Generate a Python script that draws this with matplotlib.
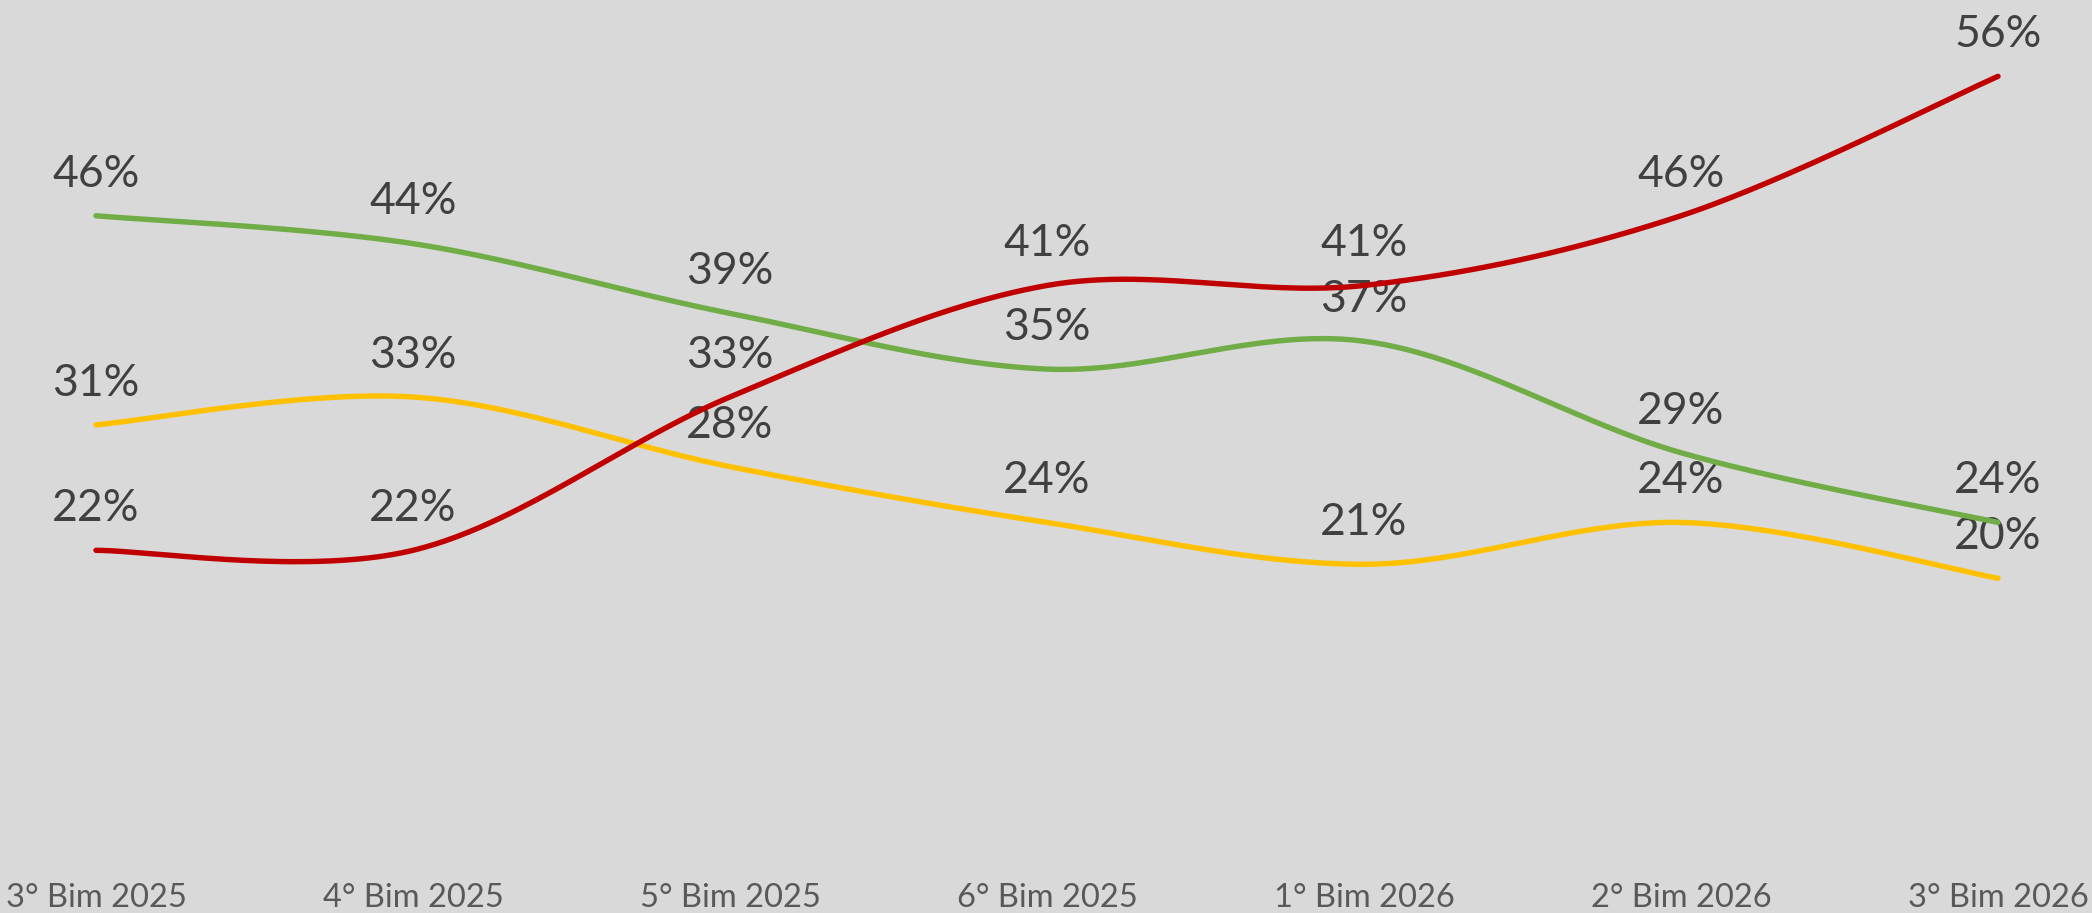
import numpy as np
import matplotlib
matplotlib.use("Agg")
import matplotlib.pyplot as plt

categories = ["3° Bim 2025", "4° Bim 2025", "5° Bim 2025", "6° Bim 2025",
              "1° Bim 2026", "2° Bim 2026", "3° Bim 2026"]
red_values = [22, 22, 33, 41, 41, 46, 56]
green_values = [46, 44, 39, 35, 37, 29, 24]
yellow_values = [31, 33, 28, 24, 21, 24, 20]

BG = "#d9d9d9"
plt.rcParams['font.family'] = ['Lato', 'DejaVu Sans']


def smooth(xs, ys, n=60):
    P = np.column_stack([xs, ys]).astype(float)
    P = np.vstack([P[0], P, P[-1]])
    out = []
    t = np.linspace(0, 1, n)[:, None]
    for i in range(1, len(P) - 2):
        p0, p1, p2, p3 = P[i - 1], P[i], P[i + 1], P[i + 2]
        c1 = p1 + (p2 - p0) / 6
        c2 = p2 - (p3 - p1) / 6
        seg = ((1 - t) ** 3) * p1 + 3 * ((1 - t) ** 2) * t * c1 + 3 * (1 - t) * t ** 2 * c2 + t ** 3 * p2
        out.append(seg if i == 1 else seg[1:])
    S = np.vstack(out)
    return S[:, 0], S[:, 1]


W, H = 2092, 913
fig = plt.figure(figsize=(W / 100, H / 100), dpi=100, facecolor=BG)
ax = fig.add_axes([96 / W, 56 / H, (1998 - 96) / W, (857 - 20.6) / H])
ax.set_facecolor(BG)
ax.set_xlim(0, len(categories) - 1)
ax.set_ylim(0, 60)

x = np.arange(len(categories))
series = [(yellow_values, "#FFC000"), (green_values, "#70AD47"), (red_values, "#C00000")]
for z, (vals, col) in enumerate(series):
    sx, sy = smooth(x, vals)
    ax.plot(sx, sy, color=col, lw=3.9, solid_capstyle='round', clip_on=False, zorder=3 + z)

for vals, col in series:
    for i, v in enumerate(vals):
        ax.annotate(f"{v}%", (i, v), xytext=(0, 21), textcoords='offset points',
                    ha='center', va='baseline', fontsize=32,
                    color='#404040', annotation_clip=False, zorder=2)

ax.set_xticks(x)
ax.set_xticklabels(categories)
ax.tick_params(axis='x', length=0, pad=19, labelsize=23.5, labelcolor='#595959')
ax.set_yticks([])
for s in ax.spines.values():
    s.set_visible(False)

fig.savefig("out.png", dpi=100, facecolor=BG)
